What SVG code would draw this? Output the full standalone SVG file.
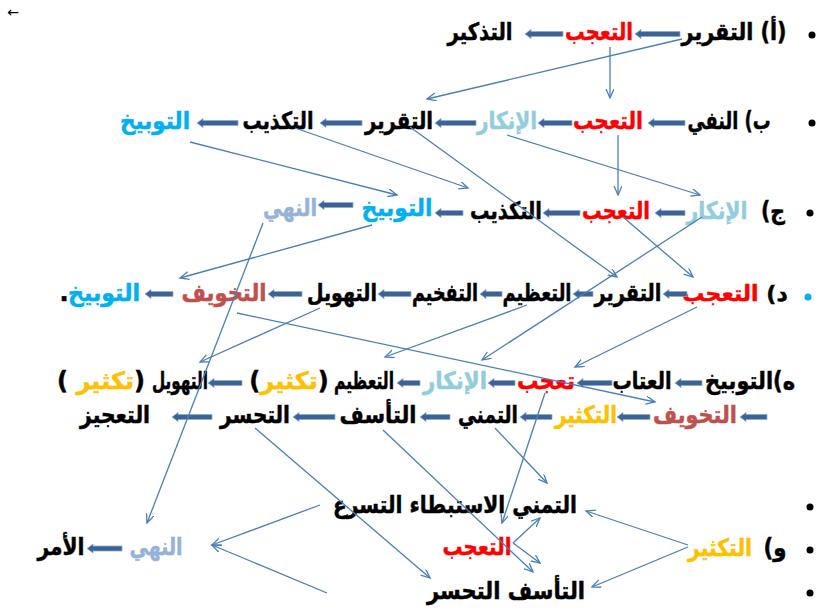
<svg xmlns="http://www.w3.org/2000/svg" width="819" height="613" viewBox="0 0 819 613">
<defs>
<marker id="ah" markerUnits="userSpaceOnUse" markerWidth="12" markerHeight="10" refX="9" refY="4" orient="auto"><path d="M0,0 L9,4 L0,8" fill="none" stroke="#4a7ebb" stroke-width="1.3"/></marker>
</defs>
<style>
text{font-family:"DejaVu Sans","Noto Sans",sans-serif;font-weight:bold;font-size:24px;text-anchor:middle;direction:rtl;unicode-bidi:embed;stroke-width:0.5}
.k{fill:#000;stroke:#000}.r{fill:#ff0000;stroke:#ff0000}.lb{fill:#92cddc;stroke:#92cddc}.cy{fill:#00b0f0;stroke:#00b0f0}.nh{fill:#95b3d7;stroke:#95b3d7}.br{fill:#c0504d;stroke:#c0504d}.gd{fill:#ffc000;stroke:#ffc000}
.blk{fill:#3d6394;stroke:#8eaad0;stroke-width:0.8}
.cn line{stroke:#4a7ebb;stroke-width:1.3;marker-end:url(#ah)}
.bul{fill:#000}
</style>
<rect width="819" height="613" fill="#fff"/>
<text x="13" y="17" style="font-size:14px;font-weight:normal;direction:ltr;stroke-width:0" class="k">←</text>
<g id="bullets">
<circle class="bul" cx="812" cy="35" r="3.5"/>
<circle class="bul" cx="812" cy="123" r="3.5"/>
<circle class="bul" cx="810" cy="213" r="3.5"/>
<circle cx="808" cy="297" r="3.5" fill="#00b0f0"/>
<circle class="bul" cx="810" cy="507" r="3.5"/>
<circle class="bul" cx="810" cy="550" r="3.5"/>
<circle class="bul" cx="810" cy="593" r="3.5"/>
</g>
<!-- row 1 -->
<g id="n1a"><text x="734" y="40" class="k" textLength="105" lengthAdjust="spacingAndGlyphs">(أ) التقرير</text></g>
<g id="n1b"><text x="599" y="40" class="r" textLength="68" lengthAdjust="spacingAndGlyphs">التعجب</text></g>
<g id="n1c"><text x="480" y="40" class="k" textLength="65" lengthAdjust="spacingAndGlyphs">التذكير</text></g>
<!-- row 2 -->
<g id="n2a"><text x="729" y="129" class="k" textLength="83" lengthAdjust="spacingAndGlyphs">ب)  النفي</text></g>
<g id="n2c"><text x="608" y="129" class="r" textLength="70" lengthAdjust="spacingAndGlyphs">التعجب</text></g>
<g id="n2d"><text x="507" y="129" class="lb" textLength="60" lengthAdjust="spacingAndGlyphs">الإنكار</text></g>
<g id="n2e"><text x="399" y="129" class="k" textLength="68" lengthAdjust="spacingAndGlyphs">التقرير</text></g>
<g id="n2f"><text x="278" y="129" class="k" textLength="71" lengthAdjust="spacingAndGlyphs">التكذيب</text></g>
<g id="n2g"><text x="155" y="129" class="cy" textLength="70" lengthAdjust="spacingAndGlyphs">التوبيخ</text></g>
<!-- row 3 -->
<g id="n3a"><text x="773" y="219" class="k" textLength="24" lengthAdjust="spacingAndGlyphs">ج)</text></g>
<g id="n3b"><text x="717" y="219" class="lb" textLength="61" lengthAdjust="spacingAndGlyphs">الإنكار</text></g>
<g id="n3c"><text x="616" y="219" class="r" textLength="68" lengthAdjust="spacingAndGlyphs">التعجب</text></g>
<g id="n3d"><text x="506" y="219" class="k" textLength="72" lengthAdjust="spacingAndGlyphs">التكذيب</text></g>
<g id="n3e"><text x="397" y="216" class="cy" textLength="71" lengthAdjust="spacingAndGlyphs">التوبيخ</text></g>
<g id="n3f"><text x="290" y="216" class="nh" textLength="54" lengthAdjust="spacingAndGlyphs">النهي</text></g>
<!-- row 4 -->
<g id="n4a"><text x="735" y="301" class="k" style="font-size:22px">د)  <tspan class="r">التعجب</tspan></text></g>
<g id="n4c"><text x="628" y="301" class="k" textLength="67" lengthAdjust="spacingAndGlyphs">التقرير</text></g>
<g id="n4d"><text x="537" y="301" class="k" textLength="69" lengthAdjust="spacingAndGlyphs">التعظيم</text></g>
<g id="n4e"><text x="445" y="301" class="k" textLength="66" lengthAdjust="spacingAndGlyphs">التفخيم</text></g>
<g id="n4f"><text x="342" y="301" class="k" textLength="70" lengthAdjust="spacingAndGlyphs">التهويل</text></g>
<g id="n4g"><text x="224" y="301" class="br" textLength="85" lengthAdjust="spacingAndGlyphs">التخويف</text></g>
<g id="n4h"><text x="104" y="301" class="cy" textLength="72" lengthAdjust="spacingAndGlyphs">التوبيخ</text><text x="64" y="301" class="k" style="direction:ltr">.</text></g>
<!-- row 5 -->
<g id="n5a"><text x="750" y="389" class="k" textLength="90" lengthAdjust="spacingAndGlyphs">ه)التوبيخ</text></g>
<g id="n5b"><text x="642" y="389" class="k" textLength="59" lengthAdjust="spacingAndGlyphs">العتاب</text></g>
<g id="n5c"><text x="546" y="389" class="r" textLength="58" lengthAdjust="spacingAndGlyphs">تعجب</text></g>
<g id="n5d"><text x="455" y="389" class="lb" textLength="64" lengthAdjust="spacingAndGlyphs">الإنكار</text></g>
<g id="n5e"><text x="364" y="389" class="k" textLength="60" lengthAdjust="spacingAndGlyphs">التعظيم</text></g>
<g id="n5f"><text x="289" y="389" class="k">(<tspan class="gd">تكثير</tspan>)</text></g>
<g id="n5g"><text x="180" y="389" class="k" textLength="56" lengthAdjust="spacingAndGlyphs">التهويل</text></g>
<g id="n5h"><text x="101" y="389" class="k">(<tspan class="gd">تكثير</tspan> )</text></g>
<!-- row 6 -->
<g id="n6a"><text x="695" y="423" class="br" textLength="84" lengthAdjust="spacingAndGlyphs">التخويف</text></g>
<g id="n6b"><text x="586" y="423" class="gd" textLength="62" lengthAdjust="spacingAndGlyphs">التكثير</text></g>
<g id="n6c"><text x="488" y="423" class="k" textLength="60" lengthAdjust="spacingAndGlyphs">التمني</text></g>
<g id="n6d"><text x="378" y="423" class="k" textLength="77" lengthAdjust="spacingAndGlyphs">التأسف</text></g>
<g id="n6e"><text x="255" y="423" class="k" textLength="70" lengthAdjust="spacingAndGlyphs">التحسر</text></g>
<g id="n6f"><text x="115" y="423" class="k" textLength="70" lengthAdjust="spacingAndGlyphs">التعجيز</text></g>
<!-- bottom -->
<g id="n7a"><text x="455" y="513" class="k" textLength="244" lengthAdjust="spacingAndGlyphs">التمني الاستبطاء التسرع</text></g>
<g id="n7b"><text x="775" y="556" class="k" textLength="23" lengthAdjust="spacingAndGlyphs">و)</text></g>
<g id="n7c"><text x="720" y="556" class="gd" textLength="64" lengthAdjust="spacingAndGlyphs">التكثير</text></g>
<g id="n7d"><text x="477" y="555" class="r" textLength="69" lengthAdjust="spacingAndGlyphs">التعجب</text></g>
<g id="n7e"><text x="156" y="555" class="nh" textLength="53" lengthAdjust="spacingAndGlyphs">النهي</text></g>
<g id="n7f"><text x="61" y="555" class="k" textLength="47" lengthAdjust="spacingAndGlyphs">الأمر</text></g>
<g id="n7g"><text x="506" y="599" class="k" textLength="158" lengthAdjust="spacingAndGlyphs">التأسف  التحسر</text></g>
<g id="blockarrows">
<path class="blk" d="M680,31.5 H641 V29.5 L635,34 L641,38.5 V36.5 H680 Z"/>
<path class="blk" d="M563,31.5 H531 V29.5 L525,34 L531,38.5 V36.5 H563 Z"/>
<path class="blk" d="M685,120.5 H654 V118.5 L648,123 L654,127.5 V125.5 H685 Z"/>
<path class="blk" d="M572,120.5 H544 V118.5 L538,123 L544,127.5 V125.5 H572 Z"/>
<path class="blk" d="M476,120.5 H441 V118.5 L435,123 L441,127.5 V125.5 H476 Z"/>
<path class="blk" d="M362,120.5 H326 V118.5 L320,123 L326,127.5 V125.5 H362 Z"/>
<path class="blk" d="M238,120.5 H203 V118.5 L197,123 L203,127.5 V125.5 H238 Z"/>
<path class="blk" d="M685,210.5 H661 V208.5 L655,213 L661,217.5 V215.5 H685 Z"/>
<path class="blk" d="M580,210.5 H549 V208.5 L543,213 L549,217.5 V215.5 H580 Z"/>
<path class="blk" d="M463,210.5 H441 V208.5 L435,213 L441,217.5 V215.5 H463 Z"/>
<path class="blk" d="M353,202.5 H324 V200.5 L318,205 L324,209.5 V207.5 H353 Z"/>
<path class="blk" d="M687,291.5 H669 V289.5 L663,294 L669,298.5 V296.5 H687 Z"/>
<path class="blk" d="M593,291.5 H579 V289.5 L573,294 L579,298.5 V296.5 H593 Z"/>
<path class="blk" d="M502,291.5 H486 V289.5 L480,294 L486,298.5 V296.5 H502 Z"/>
<path class="blk" d="M411,291.5 H384 V289.5 L378,294 L384,298.5 V296.5 H411 Z"/>
<path class="blk" d="M302,291.5 H274 V289.5 L268,294 L274,298.5 V296.5 H302 Z"/>
<path class="blk" d="M173,291.5 H151 V289.5 L145,294 L151,298.5 V296.5 H173 Z"/>
<path class="blk" d="M702,380.5 H681 V378.5 L675,383 L681,387.5 V385.5 H702 Z"/>
<path class="blk" d="M612,380.5 H583 V378.5 L577,383 L583,387.5 V385.5 H612 Z"/>
<path class="blk" d="M515,380.5 H494 V378.5 L488,383 L494,387.5 V385.5 H515 Z"/>
<path class="blk" d="M420,380.5 H403 V378.5 L397,383 L403,387.5 V385.5 H420 Z"/>
<path class="blk" d="M242,380.5 H214 V378.5 L208,383 L214,387.5 V385.5 H242 Z"/>
<path class="blk" d="M767,414.5 H746 V412.5 L740,417 L746,421.5 V419.5 H767 Z"/>
<path class="blk" d="M650,414.5 H623 V412.5 L617,417 L623,421.5 V419.5 H650 Z"/>
<path class="blk" d="M552,414.5 H526 V412.5 L520,417 L526,421.5 V419.5 H552 Z"/>
<path class="blk" d="M450,414.5 H426 V412.5 L420,417 L426,421.5 V419.5 H450 Z"/>
<path class="blk" d="M335,414.5 H299 V412.5 L293,417 L299,421.5 V419.5 H335 Z"/>
<path class="blk" d="M212,414.5 H178 V412.5 L172,417 L178,421.5 V419.5 H212 Z"/>
<path class="blk" d="M122,546 H93 V544 L87,548.5 L93,553 V551 H122 Z"/>
</g>
<g id="connectors" class="cn">
<line x1="682" y1="39" x2="427" y2="99"/>
<line x1="610" y1="47" x2="610" y2="98"/>
<line x1="618" y1="135" x2="618" y2="195"/>
<line x1="507" y1="135" x2="700" y2="195"/>
<line x1="190" y1="142" x2="397" y2="195"/>
<line x1="295" y1="128" x2="468" y2="188"/>
<line x1="410" y1="127" x2="617" y2="277"/>
<line x1="623" y1="217" x2="693" y2="277"/>
<line x1="702" y1="217" x2="482" y2="360"/>
<line x1="372" y1="225" x2="180" y2="278"/>
<line x1="263" y1="223" x2="147" y2="523"/>
<line x1="320" y1="308" x2="200" y2="362"/>
<line x1="237" y1="313" x2="655" y2="402"/>
<line x1="527" y1="305" x2="385" y2="357"/>
<line x1="697" y1="307" x2="575" y2="367"/>
<line x1="545" y1="393" x2="502" y2="523"/>
<line x1="495" y1="428" x2="547" y2="483"/>
<line x1="383" y1="430" x2="533" y2="572"/>
<line x1="255" y1="428" x2="430" y2="578"/>
<line x1="513" y1="543" x2="540" y2="518"/>
<line x1="513" y1="543" x2="540" y2="563"/>
<line x1="688" y1="545" x2="586" y2="511"/>
<line x1="688" y1="547" x2="592" y2="587"/>
<line x1="320" y1="505" x2="212" y2="545"/>
<line x1="327" y1="593" x2="212" y2="545"/>
</g>
</svg>
